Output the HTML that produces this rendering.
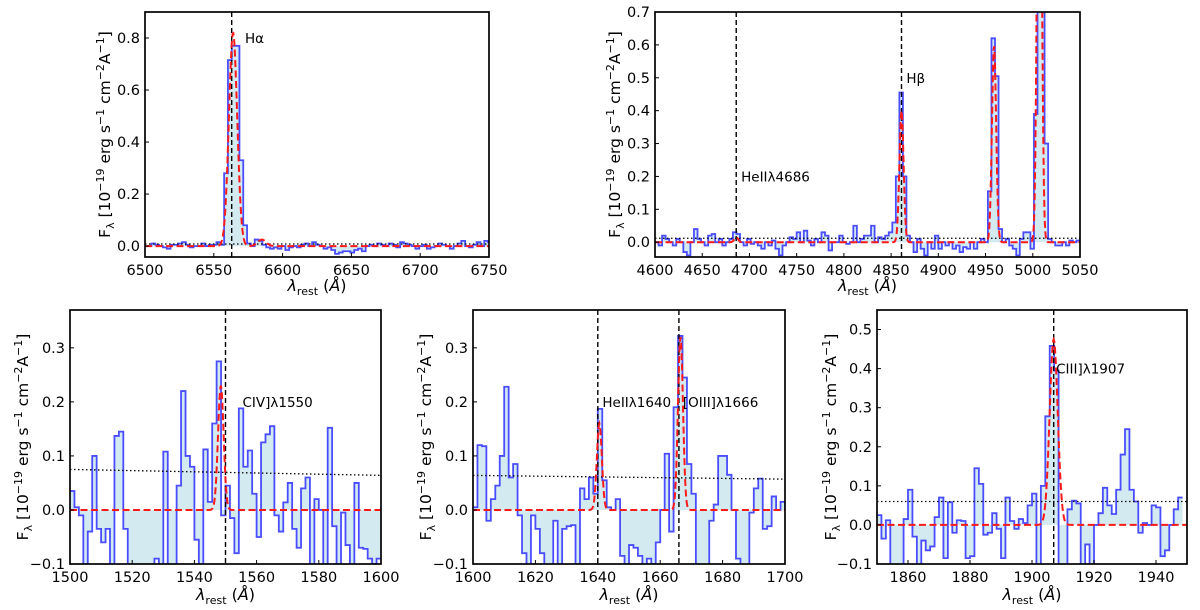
<!DOCTYPE html>
<html><head><meta charset="utf-8">
<style>
body{margin:0;background:#fff;}
svg{display:block;font-family:"DejaVu Sans","Liberation Sans",sans-serif;}
</style></head>
<body>
<svg id="fig" width="1200" height="610" viewBox="0 0 1200 610" xmlns="http://www.w3.org/2000/svg"></svg>
<script>
// ---------- DATA ----------
const haWaveStart = 6501.9, haBin = 2.78;
const haFlux = [0.0,0.01,0.005,0.0,-0.005,-0.01,0.005,0.005,0.01,0.015,0.005,-0.005,0.0,0.0,0.01,0.0,0.005,0.005,0.015,0.005,
 0.28,0.715,0.77,0.77,0.33,0.08,0.01,0.0,0.025,0.02,0.005,-0.005,-0.01,-0.005,-0.01,0.0,-0.015,-0.005,0.0,-0.005,
 0.005,0.01,0.0,0.015,0.005,0.0,-0.01,-0.005,-0.015,-0.03,-0.025,-0.02,-0.02,-0.025,-0.015,-0.01,-0.02,0.0,0.005,0.0,
 0.01,0.005,0.0,0.01,0.005,-0.005,0.015,0.01,0.005,0.0,-0.01,0.0,0.005,-0.01,-0.005,0.0,0.01,0.005,0.0,-0.01,
 0.0,0.01,0.02,0.0,-0.005,0.005,0.015,0.0,0.02,0.015];
const hbWaveStart = 4600, hbBin = 3.75;
const hbFlux = [0.0,-0.01,0.02,0.01,0.0,-0.01,0.01,0.0,-0.03,-0.04,0.0,0.04,0.01,0.0,-0.01,0.02,0.025,0.0,0.01,-0.01,0.0,
 0.01,0.03,0.025,0.0,-0.01,0.01,-0.005,0.0,-0.01,-0.02,0.0,-0.01,0.005,-0.02,-0.04,-0.01,0.0,0.015,0.01,0.03,0.0,0.035,0.005,
 -0.01,0.01,0.0,0.03,0.02,-0.025,0.0,0.0,0.02,0.0,-0.005,0.0,0.05,0.0,0.01,0.02,0.02,0.05,0.0,0.015,0.01,0.02,0.03,0.06,0.2,
 0.455,0.2,0.02,0.0,-0.03,0.01,-0.02,-0.04,0.0,-0.02,0.02,-0.02,0.0,-0.01,0.0,-0.02,-0.01,-0.03,-0.015,-0.02,0.0,-0.02,0.0,
 0.01,0.0,0.155,0.62,0.505,0.04,0.0,0.01,-0.01,-0.02,-0.04,0.01,0.03,0.03,-0.02,0.39,0.9,0.9,0.3,0.01,0.0,-0.01,-0.01,0.0,
 -0.01,0.005,0.0,0.005];
const civWaveStart = 1500, civBin = 1.4286;
const civFlux = [0.035,0.005,-0.01,-0.15,-0.04,0.1,-0.035,-0.06,-0.035,-0.15,0.137,0.145,-0.035,-0.15,-0.15,-0.15,-0.15,-0.15,-0.15,
 -0.09,-0.15,0.108,-0.15,-0.12,0.045,0.22,0.1,0.08,-0.055,-0.15,0.112,0.015,0.16,0.275,-0.01,0.045,-0.015,-0.08,0.188,0.08,
 0.11,0.03,-0.05,0.125,0.14,0.155,-0.01,-0.04,0.014,0.05,-0.035,-0.07,0.04,0.06,-0.15,0.02,0.0,-0.15,0.152,-0.03,-0.12,
 -0.005,-0.065,-0.15,0.05,-0.07,-0.072,-0.09,-0.1,-0.09];
const uv2WaveStart = 1600, uv2Bin = 1.4286;
const uv2Flux = [0.005,0.12,0.118,-0.02,0.02,0.045,0.1,0.228,0.06,0.085,-0.01,-0.08,-0.12,-0.01,-0.035,-0.08,-0.15,-0.15,-0.02,
 -0.15,-0.035,-0.03,-0.028,-0.15,0.04,0.02,0.06,0.03,0.187,0.055,0.005,0.0,0.02,-0.085,-0.15,-0.065,-0.07,-0.085,-0.12,-0.09,
 -0.1,-0.06,0.0,0.104,-0.04,0.19,0.322,0.245,0.085,0.03,-0.15,-0.15,-0.12,-0.02,0.01,0.1,0.1,0.065,0.0,-0.09,-0.12,-0.15,
 -0.005,0.04,0.058,-0.035,-0.03,0.025,0.0,0.015,0.0,-0.01,0.015,-0.025];
const ciiiWaveStart = 1850, ciiiBin = 1.4286;
const ciiiFlux = [0.025,-0.035,0.012,-0.15,-0.15,-0.15,0.015,0.09,-0.03,-0.15,-0.04,-0.065,-0.055,0.02,0.07,-0.085,0.058,-0.02,
 0.012,0.01,-0.085,-0.08,0.145,0.105,-0.025,-0.02,0.03,-0.01,-0.085,0.07,0.01,-0.01,0.015,0.005,0.05,0.08,-0.15,0.1,0.278,
 0.458,0.395,-0.15,-0.15,0.04,0.062,0.055,-0.15,-0.05,-0.15,0.0,0.03,0.095,0.05,0.028,0.09,0.18,0.245,0.09,0.06,-0.02,0.005,
 0.0,0.05,0.045,-0.08,-0.065,0.0,0.04,0.07];
// gaussian fit components: centers, amplitudes, sigmas
const haCenters=[6564,6585], haAmps=[0.82,0.025], haSig=[3.0,3.0];
const hbCenters=[4686,4861,4959,5007], hbAmps=[0.015,0.40,0.60,1.8], hbSig=[2,2.2,2.2,2.2];
const civCenters=[1548.5], civAmps=[0.23], civSig=[0.9];
const uv2Centers=[1640.5,1666.5], uv2Amps=[0.16,0.32], uv2Sig=[0.8,0.8];
const ciiiCenters=[1907], ciiiAmps=[0.475], ciiiSig=[1.3];
// error level (start, end)
const haErr=[0.008,0.008], hbErr=[0.012,0.012], civErr=[0.075,0.064], uv2Err=[0.064,0.057], ciiiErr=[0.06,0.06];
// ticks
const haXTicks=[6500,6550,6600,6650,6700,6750], haYTicks=[0.0,0.2,0.4,0.6,0.8];
const hbXTicks=[4600,4650,4700,4750,4800,4850,4900,4950,5000,5050], hbYTicks=[0,0.1,0.2,0.3,0.4,0.5,0.6,0.7];
const civXTicks=[1500,1520,1540,1560,1580,1600], civYTicks=[-0.1,0.0,0.1,0.2,0.3];
const uv2XTicks=[1600,1620,1640,1660,1680,1700], uv2YTicks=[-0.1,0.0,0.1,0.2,0.3];
const ciiiXTicks=[1860,1880,1900,1920,1940], ciiiYTicks=[-0.1,0.0,0.1,0.2,0.3,0.4,0.5];

const NS="http://www.w3.org/2000/svg";
const fig=document.getElementById('fig');
function mk(tag,attrs,parent){const e=document.createElementNS(NS,tag);for(const k in attrs)e.setAttribute(k,attrs[k]);(parent||fig).appendChild(e);return e;}

const panels=[
 {id:'halpha',box:[145,12,489,257],xr:[6500,6750],yr:[-0.042,0.9],ws:haWaveStart,bw:haBin,f:haFlux,c:haCenters,a:haAmps,s:haSig,err:haErr,xt:haXTicks,yt:haYTicks,lines:[6563],labels:[['Hα',6570.5,0.8]],ylx:110,xly:291},
 {id:'hbeta',box:[655,12,1080,257],xr:[4600,5050],yr:[-0.045,0.7],ws:hbWaveStart,bw:hbBin,f:hbFlux,c:hbCenters,a:hbAmps,s:hbSig,err:hbErr,xt:hbXTicks,yt:hbYTicks,lines:[4686,4861],labels:[['HeIIλ4686',4688,0.2],['Hβ',4863,0.5]],ylx:620,xly:291},
 {id:'civ',box:[70,310,381,564],xr:[1500,1600],yr:[-0.1,0.37],ws:civWaveStart,bw:civBin,f:civFlux,c:civCenters,a:civAmps,s:civSig,err:civErr,xt:civXTicks,yt:civYTicks,lines:[1550],labels:[['CIV]λ1550',1554.5,0.2]],ylx:28,xly:600},
 {id:'heii-oiii',box:[473,310,785,564],xr:[1600,1700],yr:[-0.1,0.37],ws:uv2WaveStart,bw:uv2Bin,f:uv2Flux,c:uv2Centers,a:uv2Amps,s:uv2Sig,err:uv2Err,xt:uv2XTicks,yt:uv2YTicks,lines:[1640,1666],labels:[['HeIIλ1640',1640.5,0.2],['[OIII]λ1666',1666.3,0.2]],ylx:431,xly:600},
 {id:'ciii',box:[877,310,1187,564],xr:[1850,1950],yr:[-0.1,0.55],ws:ciiiWaveStart,bw:ciiiBin,f:ciiiFlux,c:ciiiCenters,a:ciiiAmps,s:ciiiSig,err:ciiiErr,xt:ciiiXTicks,yt:ciiiYTicks,lines:[1907],labels:[['CIII]λ1907',1906.8,0.4]],ylx:836,xly:600}
];

panels.forEach((p,pi)=>{
 const [x0,y0,x1,y1]=p.box;
 const X=v=>x0+(v-p.xr[0])/(p.xr[1]-p.xr[0])*(x1-x0);
 const Y=v=>y1-(v-p.yr[0])/(p.yr[1]-p.yr[0])*(y1-y0);
 const g=mk('g',{});
 
 
 const cp=mk('clipPath',{id:'clip'+pi},g);
 mk('rect',{x:x0,y:y0,width:x1-x0,height:y1-y0},cp);
 const inner=mk('g',{'clip-path':'url(#clip'+pi+')'},g);
 let d='', fillD='M'+X(p.ws)+','+Y(0);
 p.f.forEach((v,i)=>{
   const a=p.ws+i*p.bw, b=a+p.bw;
   d+=(i===0?'M':'L')+X(a)+','+Y(v)+'L'+X(b)+','+Y(v);
   fillD+='L'+X(a)+','+Y(v)+'L'+X(b)+','+Y(v);
 });
 fillD+='L'+X(p.ws+p.f.length*p.bw)+','+Y(0)+'Z';
 const fl=mk('path',{d:fillD,fill:'#d3eaf0',stroke:'none'},inner);
 
 
 const st=mk('path',{d:d,fill:'none',stroke:'#4a4dff','stroke-width':1.8,'stroke-linejoin':'miter'},inner);
 
 
 const er=mk('line',{x1:x0,y1:Y(p.err[0]),x2:x1,y2:Y(p.err[1]),stroke:'#000','stroke-width':1.3,'stroke-dasharray':'1.5,2.5'},inner);
 
 
 p.lines.forEach(l=>{
   const vl=mk('line',{x1:X(l),y1:y0,x2:X(l),y2:y1,stroke:'#000','stroke-width':1.4,'stroke-dasharray':'5,3'},inner);
   
   
 });
 let md='';
 const N=600;
 for(let k=0;k<=N;k++){
   const w=p.xr[0]+(p.xr[1]-p.xr[0])*k/N;
   let v=0;
   p.c.forEach((c,j)=>{v+=p.a[j]*Math.exp(-0.5*Math.pow((w-c)/p.s[j],2));});
   md+=(k===0?'M':'L')+X(w).toFixed(2)+','+Y(v).toFixed(2);
 }
 const mo=mk('path',{d:md,fill:'none',stroke:'#ff1a1a','stroke-width':2,'stroke-dasharray':'7,3.5'},inner);
 
 
 p.labels.forEach(L=>{
   const t=mk('text',{x:X(L[1])+3,y:Y(L[2])+5,'font-size':13.5,fill:'#000'},g);
   t.textContent=L[0];
   
   
 });
 const fr=mk('rect',{x:x0,y:y0,width:x1-x0,height:y1-y0,fill:'none',stroke:'#000','stroke-width':1.7},g);
 
 
 p.xt.forEach(v=>{
   mk('line',{x1:X(v),y1:y1,x2:X(v),y2:y1-4,stroke:'#000','stroke-width':1},g);
   const t=mk('text',{x:X(v),y:y1+18,'font-size':14.5,'text-anchor':'middle'},g);
   t.textContent=String(v);
   
   
 });
 p.yt.forEach(v=>{
   mk('line',{x1:x0,y1:Y(v),x2:x0+4,y2:Y(v),stroke:'#000','stroke-width':1},g);
   const t=mk('text',{x:x0-5,y:Y(v)+5,'font-size':14.5,'text-anchor':'end'},g);
   t.textContent=(v<0?'\u2212':'')+Math.abs(v).toFixed(1);
   
   
 });
 const xl=mk('text',{x:(x0+x1)/2,y:p.xly,'font-size':16,'text-anchor':'middle'},g);
 xl.innerHTML='<tspan font-style="italic">λ</tspan><tspan font-size="11" dy="4">rest</tspan><tspan dy="-4"> (</tspan><tspan font-style="italic">Å</tspan>)';
 
 
 const yl=mk('text',{x:0,y:0,'font-size':15.5,'text-anchor':'middle',transform:'translate('+p.ylx+','+((y0+y1)/2)+') rotate(-90)'},g);
 yl.innerHTML='F<tspan font-size="11" dy="4">λ</tspan><tspan dy="-4"> [10</tspan><tspan font-size="11" dy="-6">−19</tspan><tspan dy="6"> erg s</tspan><tspan font-size="11" dy="-6">−1</tspan><tspan dy="6"> cm</tspan><tspan font-size="11" dy="-6">−2</tspan><tspan dy="6">A</tspan><tspan font-size="11" dy="-6">−1</tspan><tspan dy="6">]</tspan>';
 
 
});
</script>
</body></html>
